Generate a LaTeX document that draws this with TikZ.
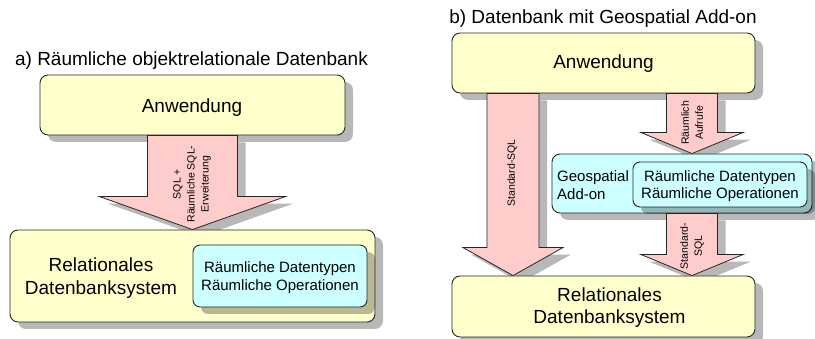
\documentclass[tikz,border=0pt]{standalone}
\usepackage{fontspec}
\setmainfont{Liberation Sans}
\usetikzlibrary{calc,shadows}

\definecolor{boxyellow}{RGB}{255,255,204}
\definecolor{arrowpink}{RGB}{255,204,204}
\definecolor{boxcyan}{RGB}{204,255,255}

\pgfdeclarelayer{back}
\pgfdeclarelayer{front}
\pgfdeclarelayer{top}
\pgfsetlayers{back,main,front,top}

\tikzset{
  boxshadow/.style = {drop shadow = {shadow xshift = 8pt, shadow yshift = -7pt,
                                     fill = black, opacity = .28}},
  bigbox/.style = {draw = black!85, line width = .9pt, rounded corners = 8pt,
                   fill = boxyellow, inner sep = 0pt, boxshadow},
  smallbox/.style = {bigbox, rounded corners = 7pt, fill = boxcyan},
  fatarrow/.style = {draw = black!85, line width = .8pt, fill = arrowpink, boxshadow},
  titletext/.style = {font = \fontsize{19}{22.5}\selectfont, inner sep = 0pt},
  boxtext/.style = {font = \fontsize{19}{22.5}\selectfont, align = center, inner sep = 0pt},
  typtext/.style = {font = \fontsize{15}{17.5}\selectfont, align = center, inner sep = 0pt},
  arrowtext/.style = {font = \fontsize{10.5}{14}\selectfont, align = center,
                      inner sep = 0pt, rotate = 90}
}

% #1 top of shaft, #2 tip, #3 half shaft width, #4 half head width, #5 head length
\newcommand{\fatarrow}[5]{%
  \draw[fatarrow] let \p1 = #1, \p2 = #2 in
    (\x1-#3,\y1) -- (\x1+#3,\y1) -- (\x1+#3,\y2+#5) -- (\x1+#4,\y2+#5)
    -- (\x2,\y2) -- (\x1-#4,\y2+#5) -- (\x1-#3,\y2+#5) -- cycle;
}

\begin{document}
\begin{tikzpicture}[x = 1pt, y = -1pt]
    \useasboundingbox (0,0) rectangle (815,339);

    % a) left side
    \node[titletext, anchor = base] (titleA) at (191.5,66) {a) Räumliche objektrelationale Datenbank};

    \begin{pgfonlayer}{back}
        \node[bigbox, minimum width = 305pt, minimum height = 60pt] (anwA) at (192.5,105) {};
        \node[boxtext, anchor = base] (anwAtext) at (192,113) {Anwendung};
    \end{pgfonlayer}

    \begin{pgfonlayer}{front}
        \node[bigbox, minimum width = 365pt, minimum height = 92pt] (rdbA) at (192.5,276) {};
        \node[boxtext] (rdbAtext) at (101,278) {Relationales\\Datenbanksystem};
        \node[smallbox, minimum width = 174pt, minimum height = 62pt] (typA) at (280,276) {};
        \node[typtext] (typAtext) at (280,277.5) {Räumliche Datentypen\\Räumliche Operationen};
    \end{pgfonlayer}

    \fatarrow{(anwA.south)}{(rdbA.north)}{45pt}{93pt}{33pt}
    \node[arrowtext] (lblA) at (192,184) {SQL +\\Räumliche SQL-\\Erweiterung};

    % b) right side
    \node[titletext, anchor = base] (titleB) at (603,24) {b) Datenbank mit Geospatial Add-on};

    \begin{pgfonlayer}{back}
        \node[bigbox, minimum width = 303pt, minimum height = 60pt] (anwB) at (603.5,63) {};
        \node[boxtext, anchor = base] (anwBtext) at (603.5,68.5) {Anwendung};
    \end{pgfonlayer}

    \begin{pgfonlayer}{front}
        \node[smallbox, rounded corners = 8pt, minimum width = 260pt, minimum height = 59pt] (geoB) at (682,183.5) {};
        \node[typtext, align = left, anchor = west] (geoBtext) at (557,185) {Geospatial\\Add-on};
        \node[smallbox, minimum width = 174pt, minimum height = 45pt] (typB) at (720,184.5) {};
        \node[typtext] (typBtext) at (720,186) {Räumliche Datentypen\\Räumliche Operationen};
    \end{pgfonlayer}

    \begin{pgfonlayer}{top}
        \node[bigbox, minimum width = 303pt, minimum height = 61pt] (rdbB) at (603.5,306.5) {};
        \node[boxtext] (rdbBtext) at (609.5,307.5) {Relationales\\Datenbanksystem};
    \end{pgfonlayer}

    \coordinate (sqlB) at ([xshift = -90.5pt]anwB.south);
    \coordinate (geoTap) at ([xshift = 88.5pt]anwB.south);

    \fatarrow{(sqlB)}{(sqlB |- rdbB.north)}{26pt}{50pt}{28pt}
    \node[arrowtext] (lblB1) at (512,173) {Standard-SQL};

    \fatarrow{(geoTap)}{(geoTap |- geoB.north)}{25.5pt}{51pt}{21pt}
    \node[arrowtext] (lblB2) at (692,123) {Räumlich\\Aufrufe};

    \begin{pgfonlayer}{front}
        \fatarrow{(geoTap |- geoB.south)}{(geoTap |- rdbB.north)}{25.5pt}{51pt}{21pt}
        \node[arrowtext] (lblB3) at (692,246) {Standard-\\SQL};
    \end{pgfonlayer}
\end{tikzpicture}
\end{document}
